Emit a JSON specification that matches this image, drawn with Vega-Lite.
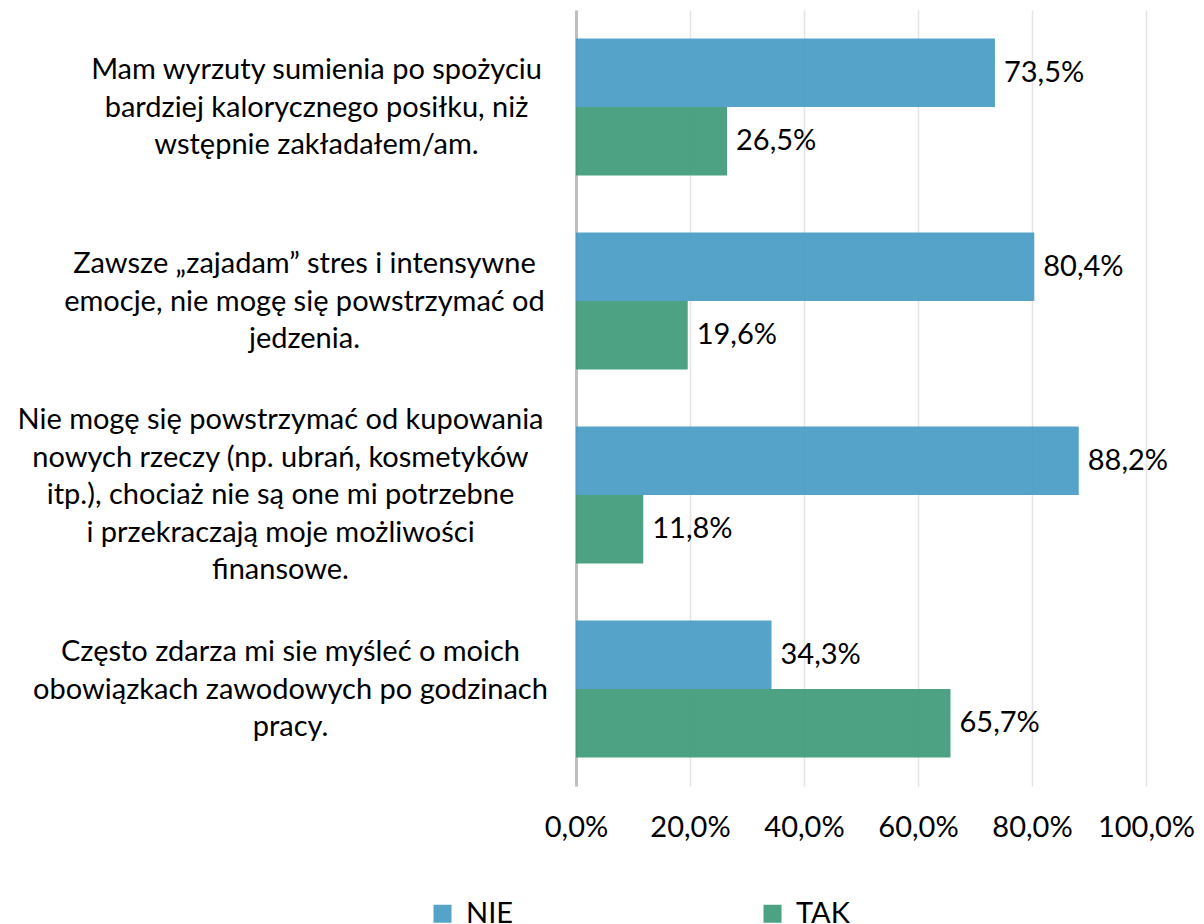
{
  "$schema": "https://vega.github.io/schema/vega-lite/v6.json",
  "autosize": "none",
  "width": 570,
  "height": 776,
  "padding": {"left": 576, "top": 10, "right": 58, "bottom": 138},
  "config": {
    "locale": {"number": {"decimal": ",", "thousands": " ", "grouping": [3], "currency": ["", " zł"]}},
    "font": "Lato",
    "view": {"stroke": null}
  },
  "data": {
    "values": [
      {"q": "Mam wyrzuty sumienia po spożyciu|bardziej kalorycznego posiłku, niż|wstępnie zakładałem/am.", "s": "NIE", "v": 0.735},
      {"q": "Mam wyrzuty sumienia po spożyciu|bardziej kalorycznego posiłku, niż|wstępnie zakładałem/am.", "s": "TAK", "v": 0.265},
      {"q": "Zawsze „zajadam” stres i intensywne|emocje, nie mogę się powstrzymać od|jedzenia.", "s": "NIE", "v": 0.804},
      {"q": "Zawsze „zajadam” stres i intensywne|emocje, nie mogę się powstrzymać od|jedzenia.", "s": "TAK", "v": 0.196},
      {"q": "Nie mogę się powstrzymać od kupowania|nowych rzeczy (np. ubrań, kosmetyków|itp.), chociaż nie są one mi potrzebne|i przekraczają moje możliwości|finansowe.", "s": "NIE", "v": 0.882},
      {"q": "Nie mogę się powstrzymać od kupowania|nowych rzeczy (np. ubrań, kosmetyków|itp.), chociaż nie są one mi potrzebne|i przekraczają moje możliwości|finansowe.", "s": "TAK", "v": 0.118},
      {"q": "Często zdarza mi sie myśleć o moich|obowiązkach zawodowych po godzinach|pracy.", "s": "NIE", "v": 0.343},
      {"q": "Często zdarza mi sie myśleć o moich|obowiązkach zawodowych po godzinach|pracy.", "s": "TAK", "v": 0.657}
    ]
  },
  "encoding": {
    "y": {
      "field": "q",
      "type": "nominal",
      "sort": null,
      "scale": {"paddingInner": 0.294, "paddingOuter": 0.147},
      "axis": {
        "title": null,
        "labelExpr": "split(datum.label, '|')",
        "labelFontSize": 29,
        "labelColor": "#000000",
        "labelLineHeight": 37.5,
        "labelLimit": 0,
        "labelAlign": "center",
        "labelBaseline": "middle",
        "labelOffset": {
          "condition": {"test": "indexof(datum.value, 'Nie') === 0", "value": -75},
          "value": -37
        },
        "labelPadding": {
          "condition": [
            {"test": "indexof(datum.value, 'Mam') === 0", "value": 260},
            {"test": "indexof(datum.value, 'Zawsze') === 0", "value": 272},
            {"test": "indexof(datum.value, 'Nie') === 0", "value": 296}
          ],
          "value": 286
        },
        "ticks": false,
        "domain": true,
        "domainColor": "#BFBFBF",
        "domainWidth": 3,
        "grid": false
      }
    },
    "yOffset": {"field": "s", "type": "nominal", "sort": ["NIE", "TAK"]},
    "x": {
      "field": "v",
      "type": "quantitative",
      "scale": {"domain": [0, 1], "nice": false},
      "axis": {
        "title": null,
        "values": [0, 0.2, 0.4, 0.6, 0.8, 1],
        "format": ".1%",
        "labelFontSize": 29,
        "labelColor": "#000000",
        "labelPadding": 27,
        "labelOverlap": false,
        "labelFlush": false,
        "domain": false,
        "ticks": false,
        "grid": true,
        "gridColor": "#E4E4E4",
        "gridWidth": 1.5
      }
    }
  },
  "layer": [
    {
      "mark": {"type": "bar", "opacity": 0.9},
      "encoding": {
        "color": {
          "field": "s",
          "type": "nominal",
          "scale": {"domain": ["NIE", "TAK"], "range": ["#4499C3", "#3A9875"]},
          "legend": {
            "title": null,
            "orient": "none",
            "direction": "horizontal",
            "legendX": -148,
            "legendY": 889,
            "padding": 0,
            "symbolType": "square",
            "symbolSize": 324,
            "symbolStrokeWidth": 0,
            "labelFontSize": 29,
            "labelColor": "#000000",
            "labelOffset": 9,
            "columnPadding": 244
          }
        }
      }
    },
    {
      "mark": {"type": "text", "align": "left", "baseline": "middle", "dx": 9, "fontSize": 29, "color": "#000000"},
      "encoding": {"text": {"field": "v", "format": ".1%"}}
    }
  ]
}
